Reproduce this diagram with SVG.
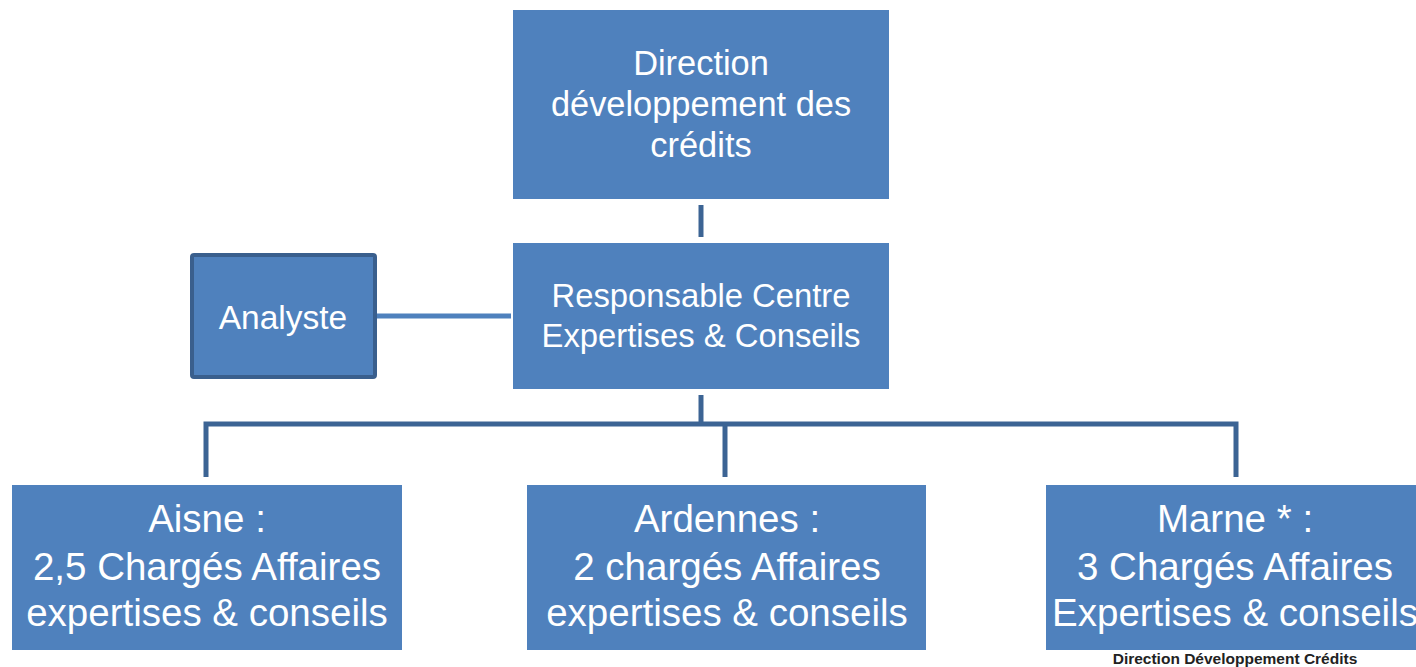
<svg xmlns="http://www.w3.org/2000/svg" width="1416" height="667" viewBox="0 0 1416 667">
<style>
.box{fill:#4F81BD;}
.t{fill:#FFFFFF;font-family:"Liberation Sans",Arial,sans-serif;text-anchor:middle;}
.dk{stroke:#3C6494;stroke-width:5;fill:none;}
.lt{stroke:#4F81BD;stroke-width:5;fill:none;}
</style>
<rect width="1416" height="667" fill="#FFFFFF"/>
<text x="1235" y="664" font-family="Liberation Sans,Arial,sans-serif" font-size="15.5" font-weight="bold" fill="#222222" text-anchor="middle">Direction Développement Crédits</text>
<g id="connectors">
<line class="dk" x1="701" y1="205" x2="701" y2="237"/>
<line class="lt" x1="376" y1="316" x2="511" y2="316"/>
<polyline class="dk" points="701,395 701,424"/>
<polyline class="dk" points="206,477 206,424 1236,424 1236,477"/>
<line class="dk" x1="725" y1="424" x2="725" y2="477"/>
</g>
<g id="direction">
<rect class="box" x="513" y="10" width="376" height="189"/>
<text class="t" font-size="34.4"><tspan x="701" y="75">Direction</tspan><tspan x="701" y="116">développement des</tspan><tspan x="701" y="157">crédits</tspan></text>
</g>
<g id="responsable">
<rect class="box" x="513" y="243" width="376" height="146"/>
<text class="t" font-size="32.8"><tspan x="701" y="307">Responsable Centre</tspan><tspan x="701" y="347">Expertises &amp; Conseils</tspan></text>
</g>
<g id="analyste">
<rect x="192" y="255" width="183" height="122" rx="2" fill="#4F81BD" stroke="#3A5F8D" stroke-width="4"/>
<text class="t" font-size="33.5" x="283" y="329">Analyste</text>
</g>
<g id="aisne">
<rect class="box" x="12" y="485" width="390" height="165"/>
<text class="t" font-size="38.5"><tspan x="207" y="532">Aisne :</tspan><tspan x="207" y="580">2,5 Chargés Affaires</tspan><tspan x="207" y="626">expertises &amp; conseils</tspan></text>
</g>
<g id="ardennes">
<rect class="box" x="527" y="485" width="399" height="165"/>
<text class="t" font-size="38.5"><tspan x="727" y="532">Ardennes :</tspan><tspan x="727" y="580">2 chargés Affaires</tspan><tspan x="727" y="626">expertises &amp; conseils</tspan></text>
</g>
<g id="marne">
<rect class="box" x="1046" y="485" width="370" height="165"/>
<text class="t" font-size="38.5"><tspan x="1235" y="532">Marne * :</tspan><tspan x="1235" y="580">3 Chargés Affaires</tspan><tspan x="1235" y="626">Expertises &amp; conseils</tspan></text>
</g>
</svg>
